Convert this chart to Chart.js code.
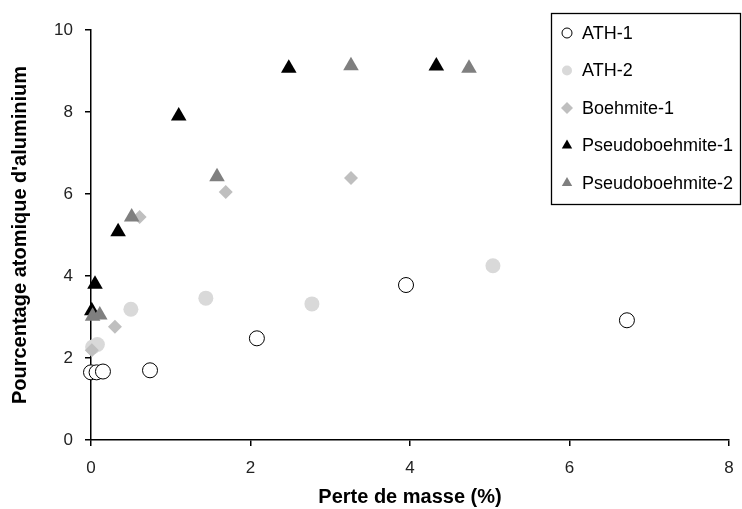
<!DOCTYPE html>
<html lang="fr">
  <head>
    <meta charset="UTF-8" />
    <title>Pourcentage atomique d'aluminium</title>
    <script src="https://cdn.jsdelivr.net/npm/chart.js"></script>
    <style>
      body {
        margin: 0;
        background: #fff;
      }
      #wrap {
        width: 742px;
        height: 509px;
      }
    </style>
  </head>
  <body>
    <div id="wrap"><canvas id="chart" width="742" height="509"></canvas></div>
    <script>
      // values: x = perte de masse (%), y = % atomique Al
      const ath1X = [0.0, 0.07, 0.15, 0.74, 2.08, 3.95, 6.72];
      const ath1Y = [1.65, 1.65, 1.67, 1.7, 2.48, 3.78, 2.92];
      const ath2X = [0.02, 0.08, 0.5, 1.44, 2.77, 5.04];
      const ath2Y = [2.27, 2.33, 3.19, 3.46, 3.32, 4.25];
      const boeh1X = [0.01, 0.3, 0.61, 1.69, 3.26];
      const boeh1Y = [2.19, 2.76, 5.44, 6.05, 6.39];
      const pseudo1X = [0.01, 0.05, 0.34, 1.1, 2.48, 4.33];
      const pseudo1Y = [3.15, 3.8, 5.08, 7.9, 9.07, 9.12];
      const pseudo2X = [0.02, 0.11, 0.51, 1.58, 3.26, 4.74];
      const pseudo2Y = [3.02, 3.05, 5.44, 6.42, 9.13, 9.07];

      const seriesNames = ["ATH-1", "ATH-2", "Boehmite-1", "Pseudoboehmite-1", "Pseudoboehmite-2"];
      const xTicks = [0, 2, 4, 6, 8];
      const yTicks = [0, 2, 4, 6, 8, 10];

      const FONT = "'Liberation Sans', Arial, sans-serif";

      function toPoints(xs, ys) {
        return xs.map((x, i) => ({ x: x, y: ys[i] }));
      }

      const styles = [
        { pointStyle: "circle", radius: 7.5, bg: "#ffffff", border: "#000000", bw: 1 },
        { pointStyle: "circle", radius: 7.5, bg: "#d9d9d9", border: "#d9d9d9", bw: 0 },
        { pointStyle: "rectRot", radius: 7, bg: "#bfbfbf", border: "#bfbfbf", bw: 0 },
        { pointStyle: "triangle", radius: 9, bg: "#000000", border: "#000000", bw: 0 },
        { pointStyle: "triangle", radius: 9, bg: "#7f7f7f", border: "#7f7f7f", bw: 0 },
      ];

      const allData = [
        toPoints(ath1X, ath1Y),
        toPoints(ath2X, ath2Y),
        toPoints(boeh1X, boeh1Y),
        toPoints(pseudo1X, pseudo1Y),
        toPoints(pseudo2X, pseudo2Y),
      ];

      const datasets = seriesNames.map((name, i) => ({
        label: name,
        data: allData[i],
        pointStyle: styles[i].pointStyle,
        pointRadius: styles[i].radius,
        pointHoverRadius: styles[i].radius,
        backgroundColor: styles[i].bg,
        borderColor: styles[i].border,
        pointBorderWidth: styles[i].bw,
        borderWidth: styles[i].bw,
        showLine: false,
        clip: false,
        order: 10 - i, // later series painted on top
      }));

      // legend box drawn over the plot, top right
      const boxLegend = {
        id: "boxLegend",
        afterDraw(chart) {
          const ctx = chart.ctx;
          const left = 551, top = 13, w = 189, h = 191;
          ctx.save();
          ctx.fillStyle = "#fff";
          ctx.fillRect(left, top, w, h);
          ctx.strokeStyle = "#000";
          ctx.lineWidth = 1.3;
          ctx.strokeRect(left + 0.5, top + 0.5, w, h);
          ctx.font = "18px " + FONT;
          ctx.textBaseline = "middle";
          seriesNames.forEach((name, i) => {
            const y = 33 + i * 37.5;
            const s = styles[i];
            ctx.fillStyle = s.bg;
            ctx.strokeStyle = s.border;
            ctx.lineWidth = s.bw;
            Chart.helpers.drawPoint(ctx, {
              pointStyle: s.pointStyle,
              radius: s.pointStyle === "circle" ? 5 : 6,
              borderWidth: s.bw,
              rotation: 0,
            }, 567, y);
            ctx.fillStyle = "#000";
            ctx.fillText(name, 582, y + 1);
          });
          ctx.restore();
        },
      };

      new Chart(document.getElementById("chart"), {
        type: "scatter",
        data: { datasets: datasets },
        plugins: [boxLegend],
        options: {
          responsive: false,
          animation: false,
          layout: { padding: { top: 30, right: 13, left: 0, bottom: 0 } },
          plugins: { legend: { display: false }, tooltip: { enabled: false } },
          scales: {
            x: {
              type: "linear",
              min: 0,
              max: 8,
              afterBuildTicks(scale) {
                scale.ticks = xTicks.map((v) => ({ value: v }));
              },
              afterFit(scale) {
                scale.height = 69;
                scale.paddingRight = 0;
                scale.paddingLeft = 0;
              },
              grid: {
                display: true,
                drawOnChartArea: false,
                drawTicks: true,
                tickLength: 6,
                color: "#000",
                lineWidth: 1.5,
              },
              border: { display: true, color: "#000", width: 1.5 },
              ticks: {
                color: "#222",
                font: { family: FONT, size: 17 },
                padding: 12,
                maxRotation: 0,
              },
              title: {
                display: true,
                text: "Perte de masse (%)",
                color: "#000",
                font: { family: FONT, size: 20, weight: "bold" },
                padding: { top: 4, bottom: 0 },
              },
            },
            y: {
              type: "linear",
              min: 0,
              max: 10,
              afterBuildTicks(scale) {
                scale.ticks = yTicks.map((v) => ({ value: v }));
              },
              afterFit(scale) {
                scale.width = 91;
              },
              grid: {
                display: true,
                drawOnChartArea: false,
                drawTicks: true,
                tickLength: 6,
                color: "#000",
                lineWidth: 1.5,
              },
              border: { display: true, color: "#000", width: 1.5 },
              ticks: {
                color: "#222",
                font: { family: FONT, size: 17 },
                padding: 12,
              },
              title: {
                display: true,
                text: "Pourcentage atomique d'aluminium",
                color: "#000",
                font: { family: FONT, size: 20, weight: "bold" },
                padding: { top: 8, bottom: 0 },
              },
            },
          },
        },
      });
    </script>
  </body>
</html>
